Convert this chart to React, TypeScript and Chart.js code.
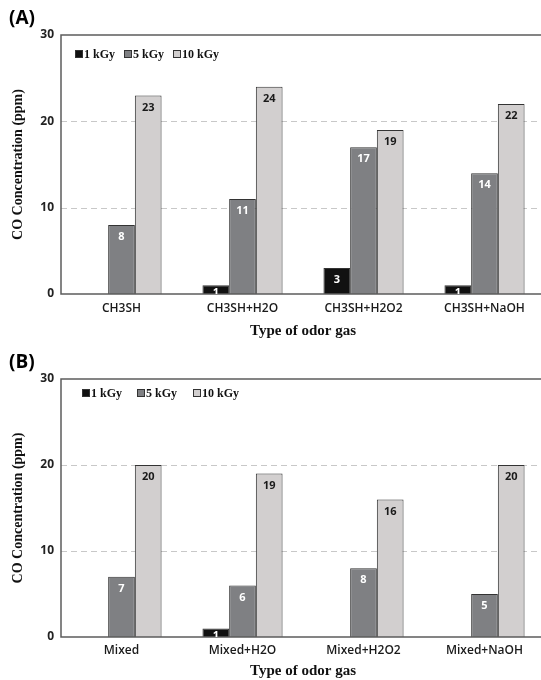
import React, { useEffect, useRef } from 'react';
import { Chart, registerables } from 'chart.js';

Chart.register(...registerables);

// ---------- data ----------
const seriesNames = ['1 kGy', '5 kGy', '10 kGy'];

const categoriesA = ['CH3SH', 'CH3SH+H2O', 'CH3SH+H2O2', 'CH3SH+NaOH'];
const a1kGy = [null, 1, 3, 1];
const a5kGy = [8, 11, 17, 14];
const a10kGy = [23, 24, 19, 22];

const categoriesB = ['Mixed', 'Mixed+H2O', 'Mixed+H2O2', 'Mixed+NaOH'];
const b1kGy = [null, 1, null, null];
const b5kGy = [7, 6, 8, 5];
const b10kGy = [20, 19, 16, 20];

const yTicks = [0, 10, 20, 30];
const yMin = 0;
const yMax = 30;
const xTitle = 'Type of odor gas';
const yTitle = 'CO Concentration (ppm)';

// ---------- styles ----------
const barColors = ['#111111', '#7f8083', '#d2cfcf'];
const labelColors = ['#ffffff', '#ffffff', '#1a1a1a'];
const frameColor = '#5c5c5c';
const SANS = '"Open Sans", "Noto Sans", sans-serif';
const SERIF = '"Liberation Serif", "DejaVu Serif", serif';

const decorPlugin = {
  id: 'panelDecor',
  beforeDatasetsDraw(chart: any) {
    const { ctx, chartArea, scales } = chart;
    const { left, right } = chartArea;
    const y = scales.y;
    ctx.save();
    ctx.strokeStyle = '#c8c8c8';
    ctx.lineWidth = 1;
    ctx.setLineDash([6, 4]);
    for (const v of yTicks) {
      if (v === yMin || v === yMax) continue;
      const py = Math.round(y.getPixelForValue(v)) + 0.5;
      ctx.beginPath();
      ctx.moveTo(left, py);
      ctx.lineTo(right, py);
      ctx.stroke();
    }
    ctx.restore();
  },
  afterDatasetsDraw(chart: any) {
    const { ctx, chartArea } = chart;
    const { left, right, top, bottom } = chartArea;
    const opts = chart.options.plugins.panelDecor;
    ctx.save();
    // frame
    ctx.strokeStyle = frameColor;
    ctx.lineWidth = 1.5;
    ctx.setLineDash([]);
    ctx.beginPath();
    ctx.moveTo(right, top);
    ctx.lineTo(left, top);
    ctx.lineTo(left, bottom);
    ctx.lineTo(right, bottom);
    ctx.stroke();

    // data labels
    ctx.font = `bold 11px ${SANS}`;
    ctx.textAlign = 'center';
    ctx.textBaseline = 'middle';
    chart.data.datasets.forEach((ds: any, di: number) => {
      const meta = chart.getDatasetMeta(di);
      meta.data.forEach((el: any, i: number) => {
        const v = ds.data[i];
        if (v === null || v === undefined) return;
        const w = el.width;
        const h = el.base - el.y;
        ctx.save();
        ctx.beginPath();
        ctx.rect(el.x - w / 2, el.y, w, h);
        ctx.clip();
        ctx.fillStyle = labelColors[di];
        ctx.fillText(String(v), el.x, el.y + Math.min(12, h / 2 + 3));
        ctx.restore();
      });
    });

    // legend
    ctx.font = `bold 12px ${SERIF}`;
    ctx.textAlign = 'left';
    ctx.textBaseline = 'middle';
    seriesNames.forEach((name, i) => {
      const bx = opts.legendX[i];
      const by = opts.legendY;
      ctx.fillStyle = barColors[i];
      ctx.fillRect(bx, by - 4, 8, 8);
      ctx.strokeStyle = '#333';
      ctx.lineWidth = 1;
      ctx.strokeRect(bx + 0.5, by - 3.5, 7, 7);
      ctx.fillStyle = '#111';
      ctx.fillText(name, bx + 9, by + 1);
    });

    // panel letter
    ctx.font = `bold 19px ${SANS}`;
    ctx.fillStyle = '#000';
    ctx.textBaseline = 'middle';
    ctx.fillText(opts.letter, 9, opts.letterY);
    ctx.restore();
  },
};

type PanelProps = {
  letter: string;
  letterY: number;
  categories: string[];
  s1: (number | null)[];
  s5: (number | null)[];
  s10: (number | null)[];
  plotTop: number;
  xAxisHeight: number;
  xTickPad: number;
  legendX: number[];
  legendY: number;
  top: number;
};

function Panel(p: PanelProps) {
  const ref = useRef<HTMLCanvasElement>(null);
  useEffect(() => {
    if (!ref.current) return;
    const values = [p.s1, p.s5, p.s10];
    const chart = new Chart(ref.current, {
      type: 'bar',
      data: {
        labels: p.categories,
        datasets: seriesNames.map((n, i) => ({
          label: n,
          data: values[i] as any,
          backgroundColor: barColors[i],
          borderColor: '#333333',
          borderWidth: 1,
          barPercentage: 1,
          categoryPercentage: 0.662,
        })),
      },
      options: {
        responsive: false,
        animation: false,
        devicePixelRatio: 1,
        layout: { padding: { left: 10, top: p.plotTop, right: 15, bottom: 0 } },
        plugins: {
          legend: { display: false },
          tooltip: { enabled: false },
          panelDecor: { letter: p.letter, letterY: p.letterY, legendX: p.legendX, legendY: p.legendY },
        } as any,
        scales: {
          x: {
            type: 'category',
            offset: true,
            grid: { display: false, drawTicks: false },
            border: { display: false },
            ticks: {
              padding: p.xTickPad,
              color: '#1a1a1a',
              font: { family: SANS, size: 12, weight: '600' as any },
              maxRotation: 0,
              autoSkip: false,
            },
            title: {
              display: true,
              text: xTitle,
              color: '#111',
              font: { family: SERIF, size: 15, weight: 'bold' },
              padding: { top: 0, bottom: 0 },
            },
            afterFit: (s: any) => {
              s.height = p.xAxisHeight;
            },
          },
          y: {
            min: yMin,
            max: yMax,
            grid: { display: false, drawTicks: false },
            border: { display: false },
            afterBuildTicks: (s: any) => {
              s.ticks = yTicks.map((v) => ({ value: v }));
            },
            ticks: {
              padding: 7,
              color: '#222',
              font: { family: SANS, size: 12, weight: 'bold' },
            },
            title: {
              display: true,
              text: yTitle,
              color: '#111',
              font: { family: SERIF, size: 14, weight: 'bold' },
              padding: { top: 0, bottom: 0 },
            },
            afterFit: (s: any) => {
              s.width = 51;
            },
          },
        },
      },
      plugins: [decorPlugin as any],
    });
    return () => chart.destroy();
  }, []);
  return (
    <div style={{ position: 'absolute', left: 0, top: p.top, width: 560, height: 340 }}>
      <canvas ref={ref} width={560} height={340} style={{ width: 560, height: 340, display: 'block' }} />
    </div>
  );
}

export default function App() {
  return (
    <div
      style={{
        position: 'absolute',
        left: 0,
        top: 0,
        width: 541,
        height: 680,
        overflow: 'hidden',
        background: '#ffffff',
      }}
    >
      <Panel
        letter="(A)"
        letterY={19}
        categories={categoriesA}
        s1={a1kGy}
        s5={a5kGy}
        s10={a10kGy}
        plotTop={35}
        xAxisHeight={46}
        xTickPad={7}
        legendX={[75, 124, 173]}
        legendY={54}
        top={0}
      />
      <Panel
        letter="(B)"
        letterY={23}
        categories={categoriesB}
        s1={b1kGy}
        s5={b5kGy}
        s10={b10kGy}
        plotTop={39}
        xAxisHeight={43}
        xTickPad={6}
        legendX={[82, 137, 193]}
        legendY={53}
        top={340}
      />
    </div>
  );
}
